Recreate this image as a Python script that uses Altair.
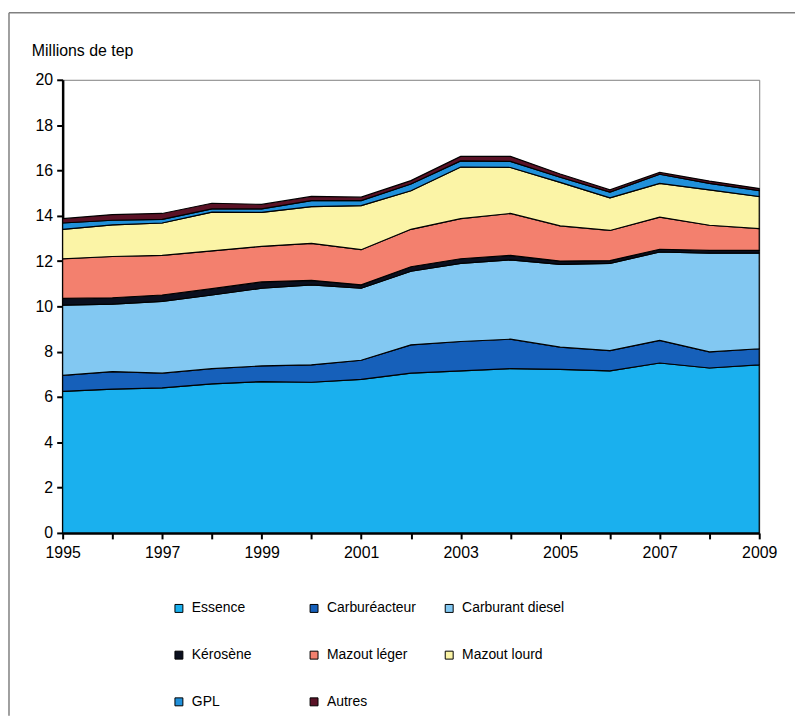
import altair as alt
import pandas as pd

years = list(range(1995, 2010))
categories = ["Essence", "Carburéacteur", "Carburant diesel", "Kérosène",
              "Mazout léger", "Mazout lourd", "GPL", "Autres"]
colors = ["#1AB0EE", "#1660BA", "#82C8F2", "#0A0F1E",
          "#F3806E", "#FBF4A6", "#2090DA", "#5A1226"]

essence = [6.25, 6.35, 6.40, 6.58, 6.68, 6.65, 6.78, 7.05, 7.15, 7.25, 7.22, 7.15, 7.50, 7.28, 7.42]
carbureacteur = [0.70, 0.77, 0.65, 0.67, 0.69, 0.77, 0.84, 1.25, 1.30, 1.30, 0.98, 0.90, 1.00, 0.71, 0.71]
diesel = [3.10, 2.98, 3.17, 3.25, 3.43, 3.53, 3.18, 3.25, 3.45, 3.50, 3.65, 3.85, 3.90, 4.36, 4.22]
kerosene = [0.30, 0.28, 0.28, 0.28, 0.28, 0.20, 0.15, 0.20, 0.20, 0.20, 0.15, 0.12, 0.12, 0.12, 0.12]
mazout_leger = [1.75, 1.82, 1.75, 1.67, 1.57, 1.63, 1.55, 1.65, 1.77, 1.85, 1.55, 1.33, 1.42, 1.11, 0.96]
mazout_lourd = [1.30, 1.40, 1.43, 1.71, 1.50, 1.62, 1.95, 1.70, 2.28, 2.03, 1.92, 1.44, 1.49, 1.56, 1.42]
gpl = [0.28, 0.20, 0.16, 0.14, 0.15, 0.27, 0.22, 0.30, 0.27, 0.27, 0.23, 0.25, 0.40, 0.29, 0.26]
autres = [0.19, 0.25, 0.26, 0.25, 0.20, 0.18, 0.15, 0.15, 0.20, 0.22, 0.14, 0.10, 0.08, 0.10, 0.09]

series = [essence, carbureacteur, diesel, kerosene, mazout_leger, mazout_lourd, gpl, autres]
rows = []
for i, (cat, vals) in enumerate(zip(categories, series)):
    for y, v in zip(years, vals):
        rows.append({"year": y, "value": v, "type": cat, "ord": i})
df = pd.DataFrame(rows)

FONT = "Liberation Sans"

areas = alt.Chart(df).mark_area(stroke="black", strokeWidth=1.2, opacity=1).encode(
    x=alt.X("year:Q", scale=alt.Scale(domain=[1995, 2009], nice=False, zero=False),
            axis=alt.Axis(title=None, values=years, format="d",
                          labelExpr="datum.value % 2 == 1 ? datum.label : ''",
                          labelFlush=False, labelOverlap=False,
                          grid=False, domainColor="black", domainWidth=2.5,
                          tickColor="black", tickWidth=2, tickSize=6,
                          labelFontSize=16, labelFont=FONT, labelColor="black",
                          labelPadding=6)),
    y=alt.Y("sum(value):Q", stack="zero", scale=alt.Scale(domain=[0, 20], nice=False),
            axis=alt.Axis(title=None, values=list(range(0, 21, 2)), grid=False,
                          domainColor="black", domainWidth=2.5,
                          tickColor="black", tickWidth=2, tickSize=6,
                          labelFontSize=16, labelFont=FONT, labelColor="black",
                          labelPadding=4)),
    color=alt.Color("type:N", sort=categories,
                    scale=alt.Scale(domain=categories, range=colors),
                    legend=alt.Legend(title=None, orient="none", legendX=110, legendY=525,
                                      direction="horizontal",
                                      columns=3, gridAlign="all", columnPadding=13,
                                      rowPadding=33, symbolType="square", symbolSize=64,
                                      symbolStrokeColor="black", symbolStrokeWidth=1,
                                      labelFontSize=14, labelFont=FONT, labelColor="black",
                                      labelOffset=6)),
    order=alt.Order("ord:Q", sort="ascending"),
)

title = alt.Chart(pd.DataFrame({"t": ["Millions de tep"]})).mark_text(
    align="left", baseline="alphabetic", fontSize=16, font=FONT, color="black"
).encode(x=alt.value(-31), y=alt.value(-24), text="t:N")

frame_left = alt.Chart(pd.DataFrame({"a": [0]})).mark_rule(color="#808080", strokeWidth=1.5).encode(
    x=alt.value(-54), y=alt.value(-67.5), y2=alt.value(640))
frame_top = alt.Chart(pd.DataFrame({"a": [0]})).mark_rule(color="#808080", strokeWidth=1.5).encode(
    x=alt.value(-54), x2=alt.value(740), y=alt.value(-67.5))

chart = alt.layer(frame_left, frame_top, areas, title).properties(
    width=701, height=456,
    autosize=alt.AutoSizeParams(type="none"),
    padding={"left": 55, "top": 70, "right": 36, "bottom": 182},
).configure_view(stroke="#808080", strokeWidth=1)

chart.save("out.html", embed_options={"renderer": "svg", "actions": False})
